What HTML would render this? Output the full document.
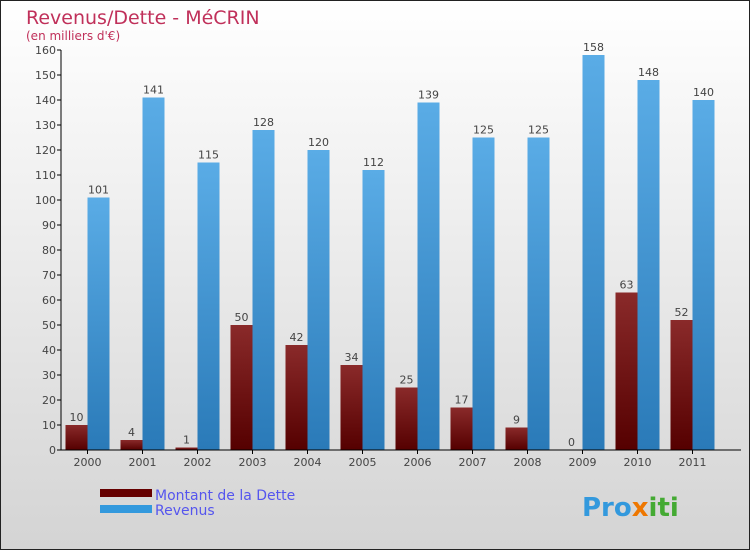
<!DOCTYPE html>
<html><head><meta charset="utf-8"><style>
body{margin:0}
svg{display:block;font-family:"DejaVu Sans","Liberation Sans",sans-serif}
</style></head><body>
<svg width="750" height="550" xmlns="http://www.w3.org/2000/svg">
<defs>
<linearGradient id="bg" x1="0" y1="0" x2="0" y2="1"><stop offset="0" stop-color="#ffffff"/><stop offset="1" stop-color="#d4d4d4"/></linearGradient>
<linearGradient id="gd" x1="0" y1="0" x2="0" y2="1"><stop offset="0" stop-color="#8a2a2a"/><stop offset="1" stop-color="#550000"/></linearGradient>
<linearGradient id="gr" x1="0" y1="0" x2="0" y2="1"><stop offset="0" stop-color="#5aace6"/><stop offset="1" stop-color="#2a7ab8"/></linearGradient>
</defs>
<rect x="0.5" y="0.5" width="749" height="549" fill="url(#bg)" stroke="#222"/>
<text x="26" y="24" font-size="19" fill="#c0305a">Revenus/Dette - MéCRIN</text>
<text x="26" y="40" font-size="12" fill="#c0305a">(en milliers d'€)</text>
<g id="plot"></g>
<g>
<rect x="100" y="489" width="52" height="8" fill="#660000"/>
<text x="155" y="500" font-size="14" fill="#5555ee">Montant de la Dette</text>
<rect x="100" y="505" width="52" height="8" fill="#3399dd"/>
<text x="155" y="515" font-size="14" fill="#5555ee">Revenus</text>
</g>
<text x="582" y="516" font-size="26" font-weight="bold" fill="#3399dd">Pro<tspan fill="#ee7700">x</tspan><tspan fill="#44aa33">iti</tspan></text>
</svg>
<script>
const categories=["2000","2001","2002","2003","2004","2005","2006","2007","2008","2009","2010","2011"];
const dette=[10,4,1,50,42,34,25,17,9,0,63,52];
const revenus=[101,141,115,128,120,112,139,125,125,158,148,140];
const yTicks=[0,10,20,30,40,50,60,70,80,90,100,110,120,130,140,150,160];
const NS="http://www.w3.org/2000/svg";
const g=document.getElementById('plot');
const x0=61,y0=450,yTop=50,yMax=160,step=55,barW=22;
const y=v=>y0-(y0-yTop)*v/yMax;
const cx=i=>x0+26.5+i*step;
function mk(t,a,txt){const e=document.createElementNS(NS,t);for(const k in a)e.setAttribute(k,a[k]);if(txt!==undefined)e.textContent=txt;g.appendChild(e);return e;}
yTicks.forEach(v=>{
 const l=mk('line',{x1:x0-4,x2:x0,y1:y(v),y2:y(v),stroke:'#000'});
 
 
 const t=mk('text',{x:x0-5,y:y(v)+4,'font-size':11,fill:'#444','text-anchor':'end'},v);
 
 
});
categories.forEach((c,i)=>{
 const c0=cx(i);
 const b1=mk('rect',{x:c0-barW,y:y(dette[i]),width:barW,height:y0-y(dette[i]),fill:'url(#gd)'});
 
 
 const t1=mk('text',{x:c0-barW/2,y:y(dette[i])-4,'font-size':11,fill:'#444','text-anchor':'middle'},dette[i]);
 
 
 const b2=mk('rect',{x:c0,y:y(revenus[i]),width:barW,height:y0-y(revenus[i]),fill:'url(#gr)'});
 
 
 const t2=mk('text',{x:c0+barW/2,y:y(revenus[i])-4,'font-size':11,fill:'#444','text-anchor':'middle'},revenus[i]);
 
 
 const tk=mk('line',{x1:c0,x2:c0,y1:y0,y2:y0+4,stroke:'#000'});
 
 
 const xl=mk('text',{x:c0,y:y0+16,'font-size':11,fill:'#444','text-anchor':'middle'},c);
 
 
});
const ya=mk('line',{x1:x0,x2:x0,y1:yTop,y2:y0,stroke:'#000'});


const xa=mk('line',{x1:x0,x2:741,y1:y0,y2:y0,stroke:'#000'});


</script>
</body></html>
